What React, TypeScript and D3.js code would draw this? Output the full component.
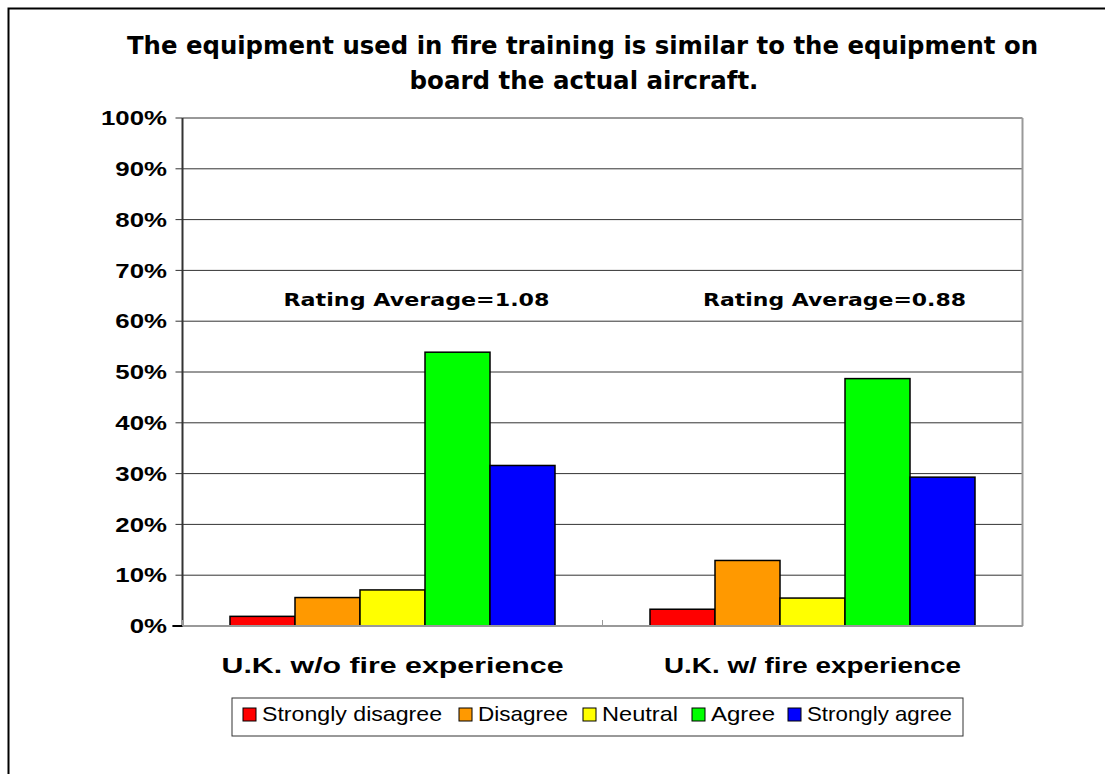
import React from 'react';
import * as d3 from 'd3';

const groups = ['U.K. w/o fire experience', 'U.K. w/ fire experience'];
const responses = ['Strongly disagree', 'Disagree', 'Neutral', 'Agree', 'Strongly agree'];
const colors = ['#ff0000', '#ff9900', '#ffff00', '#00ff00', '#0000ff'];
const withoutFire = [1.9, 5.6, 7.1, 53.9, 31.6];
const withFire = [3.3, 12.9, 5.5, 48.7, 29.3];
const ratingLabels = ['Rating Average=1.08', 'Rating Average=0.88'];
const yTicks = [0, 10, 20, 30, 40, 50, 60, 70, 80, 90, 100];

const seriesByGroup = [withoutFire, withFire];

// the original picture is stretched horizontally
const STRETCH = 1.29;

const App = () => {
  const margin = { top: 118, left: 182.5 };
  const width = 840;
  const height = 508;

  const x0 = d3.scaleBand().domain(groups).range([0, width]);
  const x1 = d3
    .scaleBand()
    .domain(responses)
    .range([47.5, x0.bandwidth() - 47.5]);
  const y = d3.scaleLinear().domain([0, 100]).range([height, 0]);

  // legend slot x positions (square left, text right end)
  const legendX = [243, 459, 583, 692, 788];
  const legendEnd = [442, 568, 678, 775, 952];

  return (
    <svg width={1105} height={774} style={{ position: 'absolute', left: 0, top: 0 }}>
      <rect x={0} y={0} width={1105} height={774} fill="#fff" />
      <rect x={8.5} y={8.5} width={1105} height={774} fill="none" stroke="#000" strokeWidth={2} />
      <g fontFamily="'DejaVu Sans', Verdana, sans-serif" fontWeight="bold" fontSize={24.5} textAnchor="middle">
        <text x={582.5} y={54} textLength={911} lengthAdjust="spacingAndGlyphs">
          The equipment used in fire training is similar to the equipment on
        </text>
        <text x={584} y={89}>board the actual aircraft.</text>
      </g>
      <g transform={`translate(${margin.left},${margin.top})`}>
        {yTicks.map((t) => (
          <g key={t}>
            <line x1={0} x2={width} y1={y(t)} y2={y(t)} stroke="#333" strokeWidth={1} />
            <line x1={-7} x2={0} y1={y(t)} y2={y(t)} stroke="#333" />
            <text
              transform={`translate(-15.5,${y(t)}) scale(${STRETCH},1)`}
              dy="0.36em"
              textAnchor="end"
              fontFamily="'Liberation Sans', Arial, sans-serif"
              fontWeight="bold"
              fontSize={20}
            >
              {t}%
            </text>
          </g>
        ))}
        <line x1={width} x2={width} y1={0} y2={height} stroke="#999" strokeWidth={2} />
        <line x1={0} x2={0} y1={0} y2={height} stroke="#333" strokeWidth={2} />
        {seriesByGroup.map((vals, gi) => (
          <g key={gi} transform={`translate(${x0(groups[gi])},0)`}>
            {vals.map((v, i) => (
              <rect
                key={i}
                x={x1(responses[i])}
                y={y(v)}
                width={x1.bandwidth()}
                height={height - y(v)}
                fill={colors[i]}
                stroke="#000"
                strokeWidth={1.5}
              />
            ))}
            <text
              x={x0.bandwidth() / 2 + (gi === 0 ? 24 : 22)}
              y={y(60) - 15.5}
              textAnchor="middle"
              fontFamily="'DejaVu Sans', Verdana, sans-serif"
              fontWeight="bold"
              fontSize={18.5}
              textLength={gi === 0 ? 266 : 263}
              lengthAdjust="spacingAndGlyphs"
            >
              {ratingLabels[gi]}
            </text>
            <text
              x={x0.bandwidth() / 2}
              y={height + 47}
              textAnchor="middle"
              fontFamily="'Liberation Sans', Arial, sans-serif"
              fontWeight="bold"
              fontSize={22.5}
              textLength={gi === 0 ? 342 : 297}
              lengthAdjust="spacingAndGlyphs"
            >
              {groups[gi]}
            </text>
          </g>
        ))}
        <line x1={-10} x2={width} y1={height} y2={height} stroke="#999" strokeWidth={2} />
        <line x1={-10} x2={0} y1={height} y2={height} stroke="#000" strokeWidth={2} />
        {[0, 1, 2].map((i) => (
          <line key={i} x1={i * x0.bandwidth()} x2={i * x0.bandwidth()} y1={height} y2={height - 6} stroke="#999" />
        ))}
      </g>
      <rect x={232} y={698} width={731} height={38} fill="#fff" stroke="#333" strokeWidth={1} />
      {responses.map((r, i) => (
        <g key={r}>
          <rect x={legendX[i]} y={708} width={13} height={13} fill={colors[i]} stroke="#000" strokeWidth={1} />
          <text
            x={legendX[i] + 19}
            y={721}
            fontFamily="'Liberation Sans', Arial, sans-serif"
            fontSize={21}
            textLength={legendEnd[i] - legendX[i] - 19}
            lengthAdjust="spacingAndGlyphs"
          >
            {r}
          </text>
        </g>
      ))}
    </svg>
  );
};

export default App;
